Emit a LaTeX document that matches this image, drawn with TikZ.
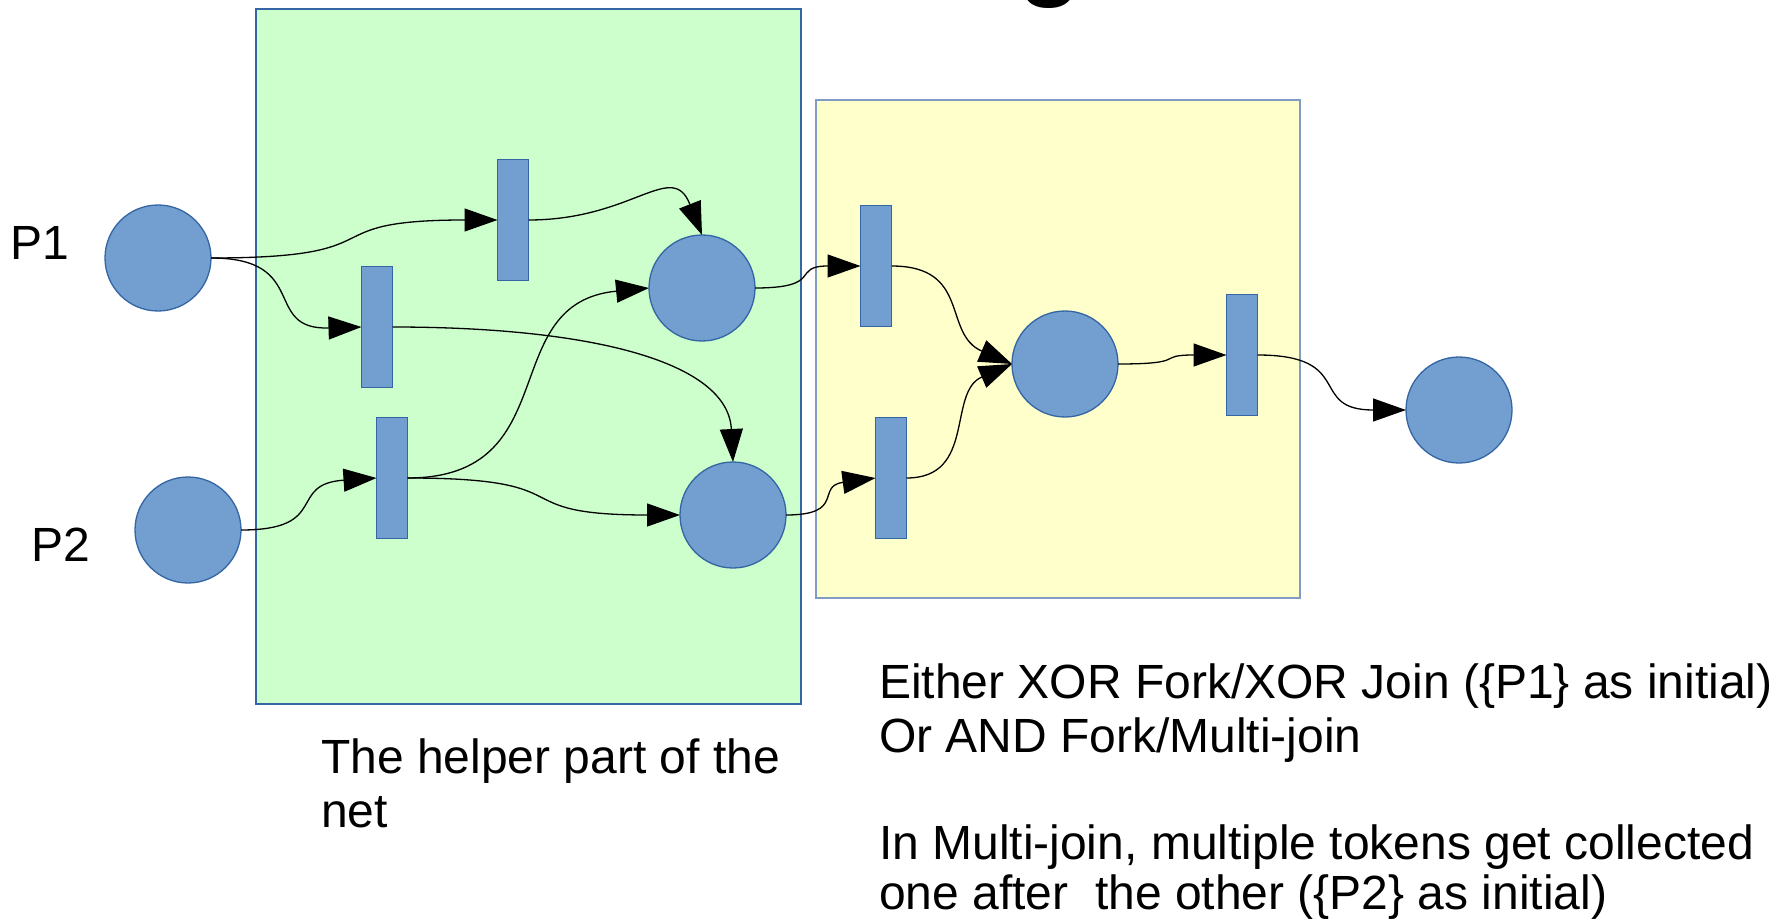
\documentclass[tikz,border=0pt]{standalone}
\usepackage{fontspec}
\setmainfont{Liberation Sans}
\usetikzlibrary{arrows.meta}

\definecolor{placefill}{HTML}{729FCF}
\definecolor{placeline}{HTML}{3465A4}
\definecolor{helperfill}{HTML}{CCFFCC}
\definecolor{joinfill}{HTML}{FFFFCC}
\definecolor{joinline}{HTML}{7F9CC4}

\begin{document}
\begin{tikzpicture}[x=1pt,y=-1pt,
  pnode/.style={circle, fill=placefill, draw=placeline, line width=1.3pt,
    minimum size=106pt, inner sep=0pt, outer sep=0pt},
  tnode/.style={rectangle, fill=placefill, draw=placeline, line width=1.3pt,
    minimum width=31pt, minimum height=121pt, inner sep=0pt, outer sep=0pt},
  flow/.style={draw=black, line width=1.3pt, -{Triangle[length=33pt,width=23pt]}},
  txt/.style={font=\fontsize{48}{54}\selectfont, inner sep=0pt, outer sep=0pt, anchor=base west},
]
\useasboundingbox (0,0) rectangle (1786,920);
\clip (0,0) rectangle (1786,920);

% title, mostly above the visible area
\node[font=\fontsize{104}{104}\selectfont\bfseries, inner sep=0pt, anchor=base] (titleg) at (1050,-13) {g};

% regions
\path[fill=helperfill, draw=placeline, line width=1.2pt] (256,9) rectangle (801,704);
\path[fill=joinfill, draw=joinline, line width=1.2pt] (816,100) rectangle (1300,598);

% places
\node[pnode] (p1) at (158,258) {};
\node[pnode] (p2) at (188,530) {};
\node[pnode] (pa) at (702,288) {};
\node[pnode] (pb) at (733,515) {};
\node[pnode] (pc) at (1065,364) {};
\node[pnode] (pd) at (1459,410) {};

% transitions
\node[tnode] (ta) at (513,220) {};
\node[tnode] (tb) at (377,327) {};
\node[tnode] (tc) at (392,478) {};
\node[tnode] (td) at (876,266) {};
\node[tnode] (te) at (891,478) {};
\node[tnode] (tf) at (1242,355) {};

% arcs of the helper part
\draw[flow] (p1.east) .. controls +(192,0) and +(-192,0) .. (ta.west);
\draw[flow] (p1.east) .. controls +(100,0) and +(-100,3) .. (tb.west);
\draw[flow] (ta.east) .. controls +(105,0) and +(-30,-76) .. (pa.north);
\draw[flow] (tb.east) .. controls +(200,0) and +(-5,-100) .. (pb.north);
\draw[flow] (p2.east) .. controls +(90,0) and +(-90,6) .. (tc.west);
\draw[flow] (tc.east) .. controls +(160,0) and +(-155,15) .. (pa.west);
\draw[flow] (tc.east) .. controls +(182,0) and +(-182,0) .. (pb.west);

% arcs of the join part
\draw[flow] (pa.east) .. controls +(70,0) and +(-70,0) .. (td.west);
\draw[flow] (pb.east) .. controls +(60,0) and +(-60,8) .. (te.west);
\draw[flow] (td.east) .. controls +(80,0) and +(-70,-30) .. (pc.west);
\draw[flow] (te.east) .. controls +(70,0) and +(-65,28) .. (pc.west);
\draw[flow] (pc.east) .. controls +(72,0) and +(-72,0) .. (tf.west);
\draw[flow] (tf.east) .. controls +(99,0) and +(-99,0) .. (pd.west);

% labels
\node[txt] (p1lbl) at (10,259) {P1};
\node[txt] (p2lbl) at (31,561) {P2};
\node[txt] (help1) at (321,773) {The helper part of the};
\node[txt] (help2) at (321,827) {net};
\node[txt] (note1) at (879,698) {Either XOR Fork/XOR Join (\{P1\} as initial)};
\node[txt] (note2) at (879,752) {Or AND Fork/Multi-join};
\node[txt] (note3) at (879,859) {In Multi-join, multiple tokens get collected};
\node[txt] (note4) at (879,909) {one after\ \ the other (\{P2\} as initial)};
\end{tikzpicture}
\end{document}
